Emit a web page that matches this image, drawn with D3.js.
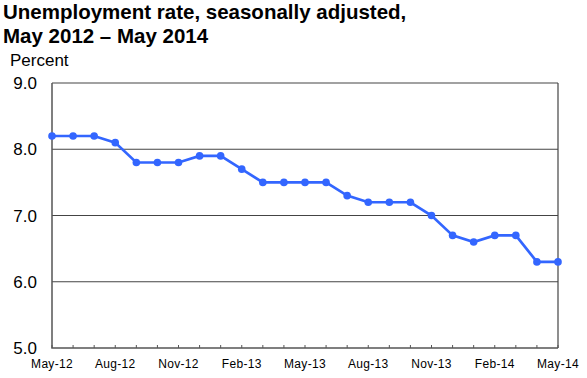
<!DOCTYPE html>
<html>
<head>
<meta charset="utf-8">
<script src="https://cdn.jsdelivr.net/npm/d3@7"></script>
<style>
    body { margin: 0; background: #fff; }
    text { font-family: Arial, "Liberation Sans", sans-serif; }
</style>
</head>
<body>
<div id="chart-area"></div>
<script>
// Monthly unemployment rate, May 2012 - May 2014
let months = ["May-12", "Jun-12", "Jul-12", "Aug-12", "Sep-12", "Oct-12", "Nov-12", "Dec-12",
    "Jan-13", "Feb-13", "Mar-13", "Apr-13", "May-13", "Jun-13", "Jul-13", "Aug-13", "Sep-13",
    "Oct-13", "Nov-13", "Dec-13", "Jan-14", "Feb-14", "Mar-14", "Apr-14", "May-14"];
let rates = [8.2, 8.2, 8.2, 8.1, 7.8, 7.8, 7.8, 7.9, 7.9, 7.7, 7.5, 7.5, 7.5, 7.5, 7.3, 7.2, 7.2,
    7.2, 7.0, 6.7, 6.6, 6.7, 6.7, 6.3, 6.3];
let yTicks = [5, 6, 7, 8, 9];
let titleLines = ["Unemployment rate, seasonally adjusted,", "May 2012 \u2013 May 2014"];

let data = months.map((m, i) => ({month: m, idx: i, rate: rates[i]}));

let margin = {top: 83, right: 29, bottom: 30, left: 52};
let width = 587 - margin.left - margin.right,
    height = 378 - margin.top - margin.bottom;

let root = d3.select("#chart-area").append("svg")
    .attr("width", 587)
    .attr("height", 378);

// Title
root.selectAll(".title")
    .data(titleLines)
    .enter().append("text")
    .attr("class", "title")
    .attr("x", 3)
    .attr("y", (d, i) => 19 + i * 24)
    .text(d => d)
    .attr("style", "font-size: 20.5px; font-weight: bold; fill: #000;");

root.append("text")
    .attr("x", 10)
    .attr("y", 66)
    .text("Percent")
    .attr("style", "font-size: 17px; fill: #000;");

let svg = root.append("g")
    .attr("transform", "translate(" + margin.left + "," + margin.top + ")");

let x = d3.scaleLinear()
    .domain([0, months.length - 1])
    .range([0, width]);

let y = d3.scaleLinear()
    .domain([5, 9])
    .range([height, 0]);

// gridlines
svg.selectAll(".grid")
    .data(yTicks.filter(d => d > 5))
    .enter().append("line")
    .attr("class", "grid")
    .attr("x1", 0)
    .attr("x2", width)
    .attr("y1", d => y(d))
    .attr("y2", d => y(d))
    .attr("stroke", "#444")
    .attr("stroke-width", 1.2);

// right border
svg.append("line")
    .attr("x1", width).attr("x2", width)
    .attr("y1", 0).attr("y2", height)
    .attr("stroke", "#444")
    .attr("stroke-width", 1.2);

// y axis labels
svg.selectAll(".y-label")
    .data(yTicks)
    .enter().append("text")
    .attr("class", "y-label")
    .attr("x", -15)
    .attr("y", d => y(d))
    .attr("dy", "0.36em")
    .attr("text-anchor", "end")
    .text(d => d.toFixed(1))
    .attr("style", "font-size: 17px; fill: #000;");

// x axis ticks (every month, pointing in)
svg.selectAll(".x-tick")
    .data(data)
    .enter().append("line")
    .attr("class", "x-tick")
    .attr("x1", d => x(d.idx))
    .attr("x2", d => x(d.idx))
    .attr("y1", height)
    .attr("y2", height - 3)
    .attr("stroke", "#555")
    .attr("stroke-width", 1);

svg.selectAll(".x-label")
    .data(data.filter(d => d.idx % 3 === 0))
    .enter().append("text")
    .attr("class", "x-label")
    .attr("x", d => x(d.idx))
    .attr("y", height + 20)
    .attr("text-anchor", "middle")
    .text(d => d.month)
    .attr("style", "font-size: 12px; letter-spacing: 0.3px; fill: #000;");

// left + bottom axis lines
svg.append("path")
    .attr("d", "M0,0V" + height + "H" + width)
    .attr("fill", "none")
    .attr("stroke", "#555")
    .attr("stroke-width", 1.5);

// series
svg.append("path")
    .datum(data)
    .attr("d", d3.line().x(d => x(d.idx)).y(d => y(d.rate)))
    .attr("fill", "none")
    .attr("stroke", "#3366ff")
    .attr("stroke-width", 2.7);

svg.selectAll(".dot")
    .data(data)
    .enter().append("circle")
    .attr("class", "dot")
    .attr("cx", d => x(d.idx))
    .attr("cy", d => y(d.rate))
    .attr("r", 3.8)
    .attr("fill", "#3366ff");
</script>
</body>
</html>
